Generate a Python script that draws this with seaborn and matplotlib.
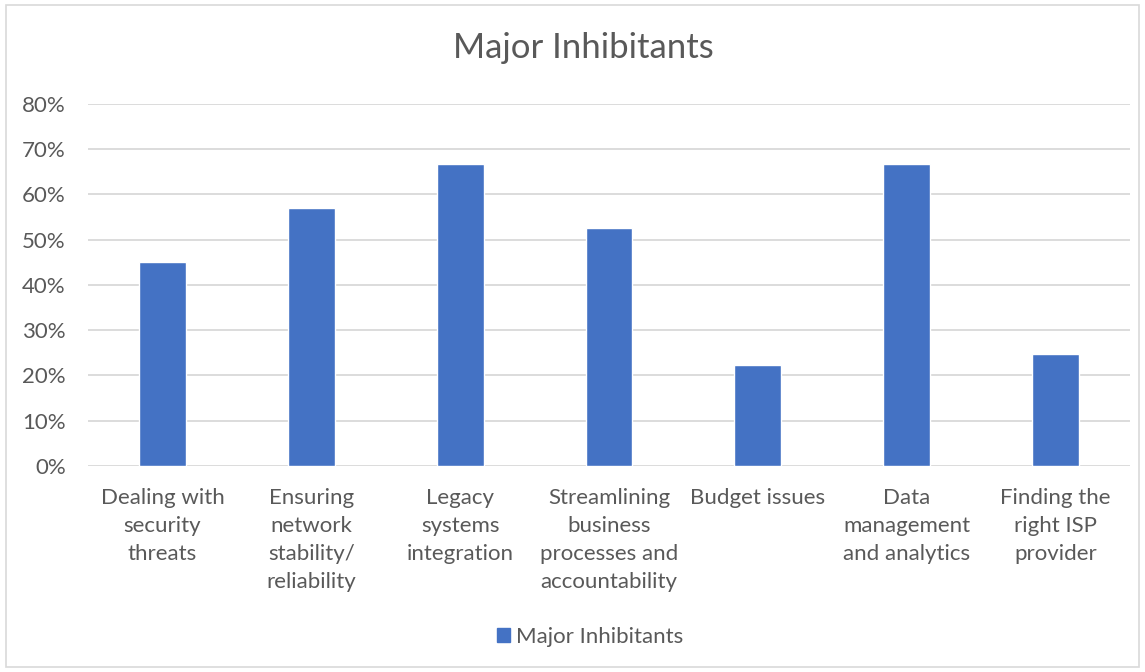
import matplotlib
matplotlib.use("Agg")
import matplotlib.pyplot as plt
import matplotlib.patches as mpatches
from matplotlib.ticker import PercentFormatter
import seaborn as sns
import pandas as pd

categories = [
    "Dealing with\nsecurity\nthreats",
    "Ensuring\nnetwork\nstability/\nreliability",
    "Legacy\nsystems\nintegration",
    "Streamlining\nbusiness\nprocesses and\naccountability",
    "Budget issues",
    "Data\nmanagement\nand analytics",
    "Finding the\nright ISP\nprovider",
]
values = [45.0, 57.0, 66.7, 52.5, 22.2, 66.7, 24.8]
series_name = "Major Inhibitants"
y_ticks = [0, 10, 20, 30, 40, 50, 60, 70, 80]

bar_color = "#4472C4"
text_color = "#595959"
grid_color = "#D9D9D9"

sns.set_theme(style="white")
plt.rcParams["font.family"] = ["Lato", "DejaVu Sans"]

df = pd.DataFrame({"category": categories, "value": values})

fig = plt.figure(figsize=(11.45, 6.72), dpi=100)
ax = fig.add_axes([88 / 1145, 1 - 466 / 672, (1130 - 88) / 1145, (466 - 103.7) / 672])

sns.barplot(data=df, x="category", y="value", color=bar_color, width=0.315,
            saturation=1, ax=ax, zorder=3)

ax.set_ylim(0, 80)
ax.set_xlim(-0.5, len(categories) - 0.5)
ax.set_yticks(y_ticks)
ax.yaxis.set_major_formatter(PercentFormatter(decimals=0))
ax.grid(axis="y", color=grid_color, linewidth=1.3, zorder=0)
ax.set_axisbelow(True)
for s in ax.spines.values():
    s.set_visible(False)
ax.tick_params(axis="both", length=0, colors=text_color, labelsize=16)
ax.tick_params(axis="y", pad=16)
ax.tick_params(axis="x", pad=16)
for lbl in ax.get_xticklabels():
    lbl.set_linespacing(1.5)
    lbl.set_verticalalignment("top")
ax.set_xlabel("")
ax.set_ylabel("")

fig.text(583 / 1145, 1 - 48 / 672, series_name, ha="center", va="center",
         fontsize=25, color=text_color)

handle = mpatches.Patch(color=bar_color, label=series_name)
fig.legend(handles=[handle], loc="center", bbox_to_anchor=(590 / 1145, 1 - 637 / 672),
           frameon=False, fontsize=16, labelcolor=text_color,
           handlelength=0.6, handleheight=0.6, handletextpad=0.25)

# chart area border
fig.patches.append(mpatches.Rectangle((6 / 1145, 5 / 672), 1133 / 1145, 662 / 672,
                                      transform=fig.transFigure, fill=False,
                                      edgecolor="#D9D9D9", linewidth=1.2))

fig.savefig("out.png", dpi=100, facecolor="white")
